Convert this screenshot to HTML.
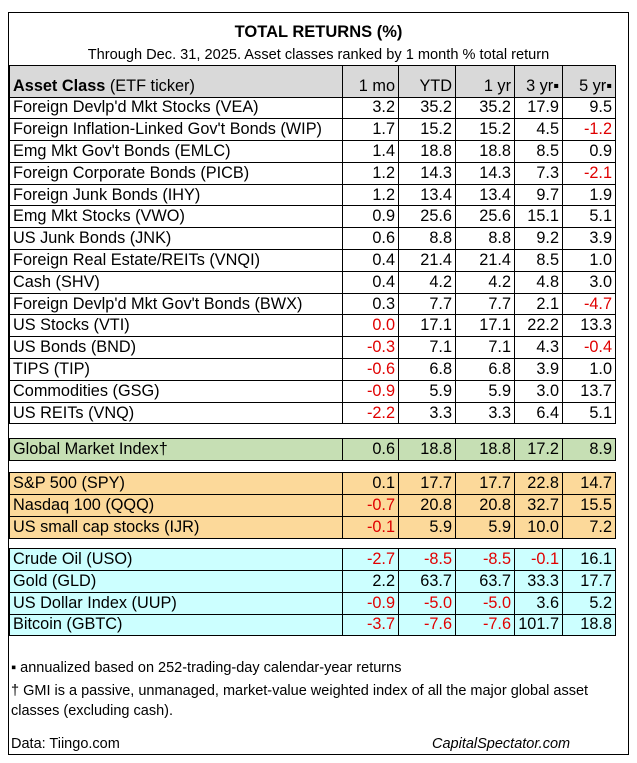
<!DOCTYPE html>
<html><head><style>
body{margin:0;background:#fff;font-family:"Liberation Sans",Arial,sans-serif;}
.box{position:absolute;left:8px;top:12px;width:619px;height:741px;border:1px solid #000;}
.t{position:absolute;left:0;width:637px;text-align:center;}
table{position:absolute;left:9px;top:65px;border-collapse:collapse;font-size:16.3px;table-layout:fixed;}
td{border:1px solid #000;padding:0 3px;height:20.8px;text-align:right;white-space:nowrap;line-height:15px;overflow:visible;}
td:first-child{text-align:left;}
.h td{background:#d9d9d9;height:27.5px;vertical-align:bottom;padding-bottom:3px;}
.r{color:#e00000}
.bl td{border-left:none;border-right:none;height:14px;}
.g td{background:#c6dfb4;height:21px}
.o td{background:#fcd99a;}
.c td{background:#ccffff;height:20.9px}
.f{position:absolute;left:11px;font-size:14.5px;}
</style></head><body>
<div class="box"></div>
<div class="t" style="top:23px;font-size:16.5px;font-weight:bold">TOTAL RETURNS (%)</div>
<div class="t" style="top:47px;font-size:14.6px">Through Dec. 31, 2025. Asset classes ranked by 1 month % total return</div>
<table>
<colgroup><col style="width:333px"><col style="width:56px"><col style="width:57px"><col style="width:59px"><col style="width:48px"><col style="width:53px"></colgroup>
<tr class="h"><td><b>Asset Class</b> (ETF ticker)</td><td>1 mo</td><td>YTD</td><td>1 yr</td><td>3 yr▪</td><td>5 yr▪</td></tr>
<tr><td>Foreign Devlp'd Mkt Stocks (VEA)</td><td>3.2</td><td>35.2</td><td>35.2</td><td>17.9</td><td>9.5</td></tr>
<tr><td>Foreign Inflation-Linked Gov't Bonds (WIP)</td><td>1.7</td><td>15.2</td><td>15.2</td><td>4.5</td><td class="r">-1.2</td></tr>
<tr><td>Emg Mkt Gov't Bonds (EMLC)</td><td>1.4</td><td>18.8</td><td>18.8</td><td>8.5</td><td>0.9</td></tr>
<tr><td>Foreign Corporate Bonds (PICB)</td><td>1.2</td><td>14.3</td><td>14.3</td><td>7.3</td><td class="r">-2.1</td></tr>
<tr><td>Foreign Junk Bonds (IHY)</td><td>1.2</td><td>13.4</td><td>13.4</td><td>9.7</td><td>1.9</td></tr>
<tr><td>Emg Mkt Stocks (VWO)</td><td>0.9</td><td>25.6</td><td>25.6</td><td>15.1</td><td>5.1</td></tr>
<tr><td>US Junk Bonds (JNK)</td><td>0.6</td><td>8.8</td><td>8.8</td><td>9.2</td><td>3.9</td></tr>
<tr><td>Foreign Real Estate/REITs (VNQI)</td><td>0.4</td><td>21.4</td><td>21.4</td><td>8.5</td><td>1.0</td></tr>
<tr><td>Cash (SHV)</td><td>0.4</td><td>4.2</td><td>4.2</td><td>4.8</td><td>3.0</td></tr>
<tr><td>Foreign Devlp'd Mkt Gov't Bonds (BWX)</td><td>0.3</td><td>7.7</td><td>7.7</td><td>2.1</td><td class="r">-4.7</td></tr>
<tr><td>US Stocks (VTI)</td><td class="r">0.0</td><td>17.1</td><td>17.1</td><td>22.2</td><td>13.3</td></tr>
<tr><td>US Bonds (BND)</td><td class="r">-0.3</td><td>7.1</td><td>7.1</td><td>4.3</td><td class="r">-0.4</td></tr>
<tr><td>TIPS (TIP)</td><td class="r">-0.6</td><td>6.8</td><td>6.8</td><td>3.9</td><td>1.0</td></tr>
<tr><td>Commodities (GSG)</td><td class="r">-0.9</td><td>5.9</td><td>5.9</td><td>3.0</td><td>13.7</td></tr>
<tr><td>US REITs (VNQ)</td><td class="r">-2.2</td><td>3.3</td><td>3.3</td><td>6.4</td><td>5.1</td></tr>
<tr class="bl"><td colspan="6"></td></tr>
<tr class="g"><td>Global Market Index†</td><td>0.6</td><td>18.8</td><td>18.8</td><td>17.2</td><td>8.9</td></tr>
<tr class="bl"><td colspan="6" style="height:11px"></td></tr>
<tr class="o"><td>S&amp;P 500 (SPY)</td><td>0.1</td><td>17.7</td><td>17.7</td><td>22.8</td><td>14.7</td></tr>
<tr class="o"><td>Nasdaq 100 (QQQ)</td><td class="r">-0.7</td><td>20.8</td><td>20.8</td><td>32.7</td><td>15.5</td></tr>
<tr class="o"><td>US small cap stocks (IJR)</td><td class="r">-0.1</td><td>5.9</td><td>5.9</td><td>10.0</td><td>7.2</td></tr>
<tr class="bl"><td colspan="6" style="height:9px"></td></tr>
<tr class="c"><td>Crude Oil (USO)</td><td class="r">-2.7</td><td class="r">-8.5</td><td class="r">-8.5</td><td class="r">-0.1</td><td>16.1</td></tr>
<tr class="c"><td>Gold (GLD)</td><td>2.2</td><td>63.7</td><td>63.7</td><td>33.3</td><td>17.7</td></tr>
<tr class="c"><td>US Dollar Index (UUP)</td><td class="r">-0.9</td><td class="r">-5.0</td><td class="r">-5.0</td><td>3.6</td><td>5.2</td></tr>
<tr class="c"><td>Bitcoin (GBTC)</td><td class="r">-3.7</td><td class="r">-7.6</td><td class="r">-7.6</td><td>101.7</td><td>18.8</td></tr>
</table>
<div class="f" style="top:660px">▪ annualized based on 252-trading-day calendar-year returns</div>
<div class="f" style="top:681px;width:605px;line-height:20px">† GMI is a passive, unmanaged, market-value weighted index of all the major global asset classes (excluding cash).</div>
<div class="f" style="top:736px">Data: Tiingo.com</div>
<div class="f" style="top:736px;left:432px;font-style:italic">CapitalSpectator.com</div>
</body></html>
